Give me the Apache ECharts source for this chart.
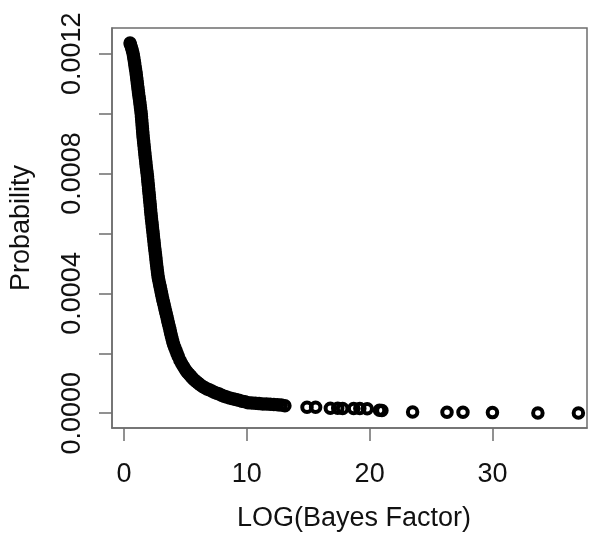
<!DOCTYPE html>
<html>
<head>
<meta charset="utf-8">
<script src="https://cdn.jsdelivr.net/npm/echarts@6/dist/echarts.min.js"></script>
<style>
html,body{margin:0;padding:0;background:#fff;}
#chart{width:597px;height:537px;}
</style>
</head>
<body>
<div id="chart"></div>
<script>
// LOG(Bayes Factor) values (x)
const logBF = [
  0.49,0.53,0.61,0.68,0.74,0.78,0.82,0.86,0.89,0.93,0.97,
  1.00,1.03,1.06,1.09,1.12,1.15,1.18,1.21,1.25,1.28,1.31,1.34,1.37,
  1.40,1.42,1.44,1.46,1.48,1.50,1.52,1.54,1.56,1.59,1.61,1.64,1.66,1.69,1.71,
  1.74,1.77,1.79,1.82,1.85,1.88,1.91,1.93,1.95,1.98,2.00,2.02,2.05,2.07,2.09,
  2.12,2.14,2.16,2.18,2.21,2.23,2.26,2.29,2.31,2.34,2.37,2.39,2.42,2.45,2.47,
  2.50,2.53,2.56,2.59,2.61,2.64,2.67,2.70,2.73,2.76,2.80,2.85,2.90,2.95,3.00,
  3.05,3.10,3.15,3.21,3.27,3.32,3.38,3.44,3.50,3.55,3.61,3.67,3.73,3.78,3.84,
  3.90,3.96,4.03,4.12,4.22,4.31,4.41,
  4.55,4.70,4.85,5.00,5.15,5.30,5.45,5.60,5.75,5.90,6.05,6.20,
  6.40,6.58,6.76,6.94,7.15,7.35,7.55,7.75,7.95,8.15,8.35,
  8.60,8.85,9.10,9.35,9.60,9.85,10.1,10.4,10.7,11.0,11.3,11.6,11.9,12.2,12.5,12.8,13.1,
  14.9,15.6,16.8,17.4,17.8,18.7,19.2,19.8,20.8,21.0,23.5,26.3,27.6,30.0,33.7,37.0
];
// Probability values (y), same order as logBF
const probability = [
  0.001236,0.00123,0.00122,0.00121,0.00120,0.00119,0.00118,0.00117,0.00116,0.00115,0.00114,
  0.00113,0.00112,0.00111,0.00110,0.00109,0.00108,0.00107,0.00106,0.00105,0.00104,0.00103,0.00102,0.00101,
  0.00100,0.00099,0.00098,0.00097,0.00096,0.00095,0.00094,0.00093,0.00092,0.00091,0.00090,0.00089,0.00088,0.00087,0.00086,
  0.00085,0.00084,0.00083,0.00082,0.00081,0.00080,0.00079,0.00078,0.00077,0.00076,0.00075,0.00074,0.00073,0.00072,0.00071,
  0.00070,0.00069,0.00068,0.00067,0.00066,0.00065,0.00064,0.00063,0.00062,0.00061,0.00060,0.00059,0.00058,0.00057,0.00056,
  0.00055,0.00054,0.00053,0.00052,0.00051,0.00050,0.00049,0.00048,0.00047,0.00046,0.00045,0.00044,0.00043,0.00042,0.00041,
  0.00040,0.00039,0.00038,0.00037,0.00036,0.00035,0.00034,0.00033,0.00032,0.00031,0.00030,0.00029,0.00028,0.00027,0.00026,
  0.00025,0.00024,0.00023,0.00022,0.00021,0.00020,0.00019,
  0.000177,0.000165,0.000155,0.000145,0.000137,0.000130,0.000123,0.000116,0.000110,0.000105,0.000100,0.000095,
  0.000089,0.000085,0.000081,0.000078,0.000074,0.000070,0.000067,0.000064,0.000060,0.000057,0.000054,
  0.000051,0.000048,0.000046,0.000043,0.000040,0.000038,0.000035,0.000034,0.000033,0.000032,0.000031,0.000031,0.000030,0.000029,0.000028,0.000027,0.000025,
  0.000020,0.000020,0.0000165,0.0000165,0.000016,0.0000155,0.0000155,0.000015,0.000010,0.000009,0.000004,0.000003,0.000003,0.000002,0.000001,0.000001
];
const xTicks = [0, 10, 20, 30];
const yTicks = [0, 0.0002, 0.0004, 0.0006, 0.0008, 0.0010, 0.0012];
const yLabels = [0, 0.0004, 0.0008, 0.0012];

const points = logBF.map((x, i) => [x, probability[i]]);

const chart = echarts.init(document.getElementById('chart'), null, {renderer: 'canvas'});
const font = '"Liberation Sans", Arial, sans-serif';
const frame = '#6e6e6e';
const ink = '#111111';
chart.setOption({
  animation: false,
  backgroundColor: '#ffffff',
  grid: {left: 112, right: 10, top: 28, bottom: 104, show: true, borderColor: frame, borderWidth: 1.5, backgroundColor: 'transparent'},
  xAxis: {
    type: 'value', min: -0.98, max: 37.7,
    name: 'LOG(Bayes Factor)', nameLocation: 'middle', nameGap: 77,
    nameTextStyle: {fontFamily: font, fontSize: 27, color: ink, padding: [0, 0, 0, 9]},
    axisLine: {show: true, onZero: false, lineStyle: {color: frame, width: 1.5}},
    axisTick: {show: true, length: 13, customValues: xTicks, lineStyle: {color: frame, width: 1.5}},
    axisLabel: {customValues: xTicks, fontFamily: font, fontSize: 27, color: ink, margin: 33, formatter: v => String(v)},
    splitLine: {show: false}
  },
  yAxis: {
    type: 'value', min: -0.0000494, max: 0.001286,
    name: 'Probability', nameLocation: 'middle', nameGap: 77, nameRotate: 90,
    nameTextStyle: {fontFamily: font, fontSize: 27, color: ink},
    axisLine: {show: true, onZero: false, lineStyle: {color: frame, width: 1.5}},
    axisTick: {show: true, length: 13, customValues: yTicks, lineStyle: {color: frame, width: 1.5}},
    axisLabel: {customValues: yLabels, rotate: 90, fontFamily: font, fontSize: 27, color: ink, margin: 26,
      formatter: v => v.toFixed(4)},
    splitLine: {show: false}
  },
  series: [{
    type: 'scatter',
    data: points,
    symbol: 'circle',
    symbolSize: 9.5,
    itemStyle: {color: 'rgba(0,0,0,0)', borderColor: '#000', borderWidth: 4, opacity: 1},
    emphasis: {disabled: true}
  }]
});
</script>
</body>
</html>
